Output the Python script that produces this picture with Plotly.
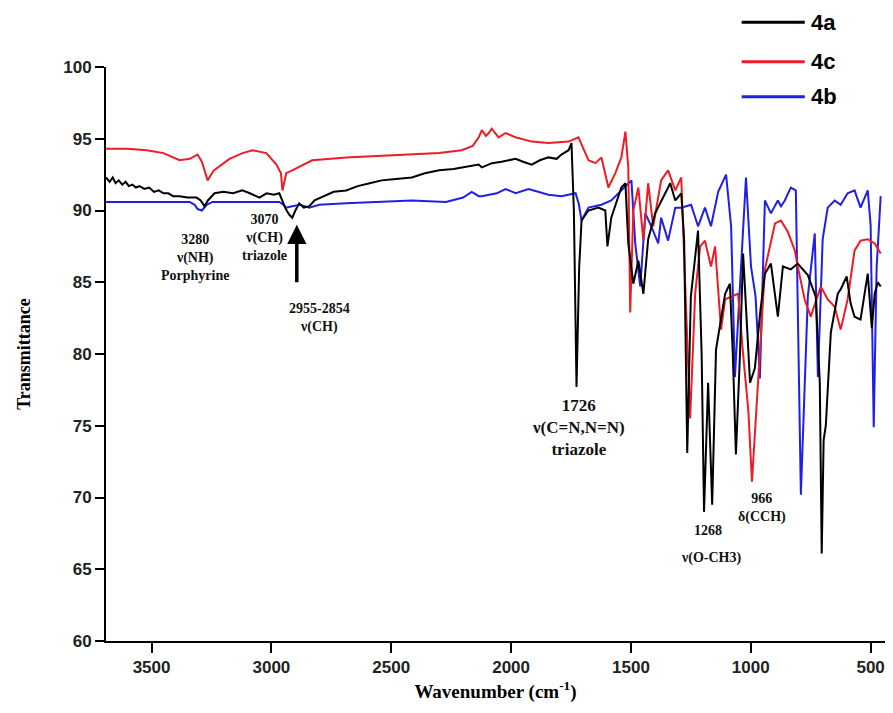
import plotly.graph_objects as go

# ---- data ----
wn_4a = [3690, 3675, 3662, 3650, 3637, 3622, 3608, 3595, 3580, 3565, 3550, 3530, 3510, 3490, 3470,
         3450, 3430, 3410, 3383, 3350, 3312, 3295, 3279, 3265, 3237, 3200, 3160, 3121, 3090, 3050,
         3020, 2990, 2967, 2954, 2940, 2925, 2913, 2900, 2884, 2865, 2842, 2820, 2780, 2740, 2688,
         2640, 2590, 2540, 2480, 2414, 2360, 2300, 2240, 2180, 2135, 2122, 2080, 2040, 1981, 1950,
         1914, 1880, 1844, 1810, 1790, 1760, 1748, 1738, 1727, 1716, 1706, 1677, 1636, 1607, 1598,
         1582, 1540, 1523, 1511, 1490, 1469, 1448, 1428, 1399, 1357, 1336, 1315, 1290, 1278, 1265,
         1250, 1220, 1205, 1195, 1178, 1161, 1145, 1107, 1087, 1075, 1062, 1045, 1032, 1003, 983,
         960, 941, 916, 887, 866, 833, 804, 762, 729, 712, 704, 696, 687, 666, 637, 625, 600,
         583, 567, 542, 512, 495, 483, 470, 458]
t_4a = [92.3, 92.0, 92.3, 91.9, 92.1, 91.8, 92.0, 91.7, 91.8, 91.6, 91.7, 91.5, 91.6, 91.3, 91.4,
        91.2, 91.2, 91.0, 91.0, 90.9, 90.9, 90.7, 90.3, 90.7, 91.2, 91.3, 91.2, 91.4, 91.2, 90.9,
        91.2, 91.1, 91.2, 90.7, 90.1, 89.7, 89.5, 90.0, 90.5, 90.2, 90.3, 90.7, 91.0, 91.3, 91.4,
        91.7, 91.9, 92.1, 92.2, 92.3, 92.6, 92.8, 92.9, 93.1, 93.2, 93.0, 93.3, 93.4, 93.6, 93.4,
        93.2, 93.5, 93.7, 93.6, 93.9, 94.2, 94.7, 90.0, 77.7, 86.0, 89.3, 90.0, 90.2, 90.0, 87.5,
        89.5, 91.6, 91.9, 87.7, 84.9, 86.5, 84.2, 88.0, 89.8, 91.2, 91.9, 90.7, 91.2, 88.0, 73.1,
        84.0, 88.6, 80.0, 69.0, 78.0, 69.5, 80.3, 84.2, 84.9, 80.0, 73.0, 80.0, 87.0, 78.0, 79.0,
        83.0, 85.6, 86.3, 82.6, 86.1, 85.9, 86.3, 85.5, 84.0, 78.0, 66.1, 74.0, 75.0, 81.5, 84.2, 84.5, 85.4,
        83.5, 82.6, 82.4, 85.6, 81.8, 84.2, 85.0, 84.7]

wn_4c = [3691, 3600, 3520, 3450, 3383, 3340, 3308, 3290, 3266, 3240, 3175, 3120, 3079, 3021, 2979,
         2960, 2954, 2938, 2913, 2830, 2688, 2550, 2414, 2300, 2206, 2160, 2135, 2122, 2105, 2093,
         2081, 2052, 2023, 1981, 1914, 1844, 1760, 1719, 1677, 1648, 1623, 1594, 1565, 1540, 1523,
         1511, 1503, 1490, 1469, 1448, 1428, 1407, 1374, 1345, 1315, 1290, 1253, 1232, 1211, 1191,
         1166, 1149, 1124, 1107, 1082, 1053, 1032, 1010, 995, 970, 941, 899, 874, 845, 816, 804,
         775, 750, 733, 708, 679, 650, 625, 596, 567, 542, 512, 483, 458]
t_4c = [94.3, 94.3, 94.2, 94.0, 93.5, 93.6, 93.9, 93.4, 92.1, 92.8, 93.6, 94.0, 94.2, 94.0, 93.2,
        92.6, 91.4, 92.6, 92.8, 93.5, 93.7, 93.8, 93.9, 94.0, 94.2, 94.5, 95.1, 95.6, 95.2, 95.4,
        95.7, 95.1, 95.4, 95.1, 94.8, 94.7, 94.8, 95.1, 93.5, 93.3, 93.7, 91.6, 92.6, 93.7, 95.5,
        93.0, 82.9, 90.0, 91.6, 87.9, 91.9, 88.9, 92.1, 92.8, 91.4, 92.3, 75.5, 84.2, 87.5, 87.9,
        86.1, 87.5, 81.7, 83.8, 84.0, 84.2, 80.0, 76.0, 71.1, 78.0, 85.9, 89.1, 89.3, 88.5, 87.2, 86.1,
        83.8, 82.6, 83.5, 84.7, 83.8, 83.3, 81.7, 83.8, 87.2, 87.9, 88.0, 87.7, 87.0]

wn_4b = [3691, 3550, 3400, 3341, 3320, 3308, 3290, 3270, 3246, 3100, 2967, 2950, 2938, 2913, 2880,
         2842, 2800, 2688, 2550, 2414, 2272, 2200, 2164, 2135, 2122, 2060, 2023, 1981, 1927, 1844,
         1790, 1731, 1718, 1706, 1677, 1623, 1582, 1540, 1498, 1482, 1461, 1440, 1415, 1386, 1374,
         1345, 1315, 1290, 1249, 1220, 1191, 1166, 1136, 1103, 1082, 1066, 1045, 1020, 999, 980,
         962, 941, 916, 887, 874, 858, 833, 812, 791, 762, 733, 720, 700, 679, 650, 625, 596,
         567, 542, 512, 500, 487, 475, 458]
t_4b = [90.6, 90.6, 90.6, 90.6, 90.4, 90.1, 90.0, 90.4, 90.6, 90.6, 90.6, 90.4, 90.2, 90.3, 90.4,
        90.2, 90.4, 90.5, 90.6, 90.7, 90.6, 90.9, 91.3, 91.0, 91.0, 91.2, 91.5, 91.2, 91.5, 91.1,
        91.0, 91.2, 90.5, 89.3, 90.2, 90.4, 90.7, 91.4, 92.1, 87.7, 84.7, 89.8, 88.9, 87.7, 89.5,
        87.9, 90.2, 90.2, 90.4, 88.9, 90.2, 88.9, 91.3, 92.5, 88.9, 78.4, 85.0, 92.3, 86.1, 84.0,
        78.3, 90.7, 89.8, 90.7, 90.3, 90.7, 91.6, 91.4, 70.2, 84.0, 88.4, 78.4, 88.0, 90.2, 90.7,
        90.4, 91.2, 91.4, 90.2, 91.4, 89.0, 74.9, 86.0, 91.0]

x_ticks = [3500, 3000, 2500, 2000, 1500, 1000, 500]
y_ticks = [60, 65, 70, 75, 80, 85, 90, 95, 100]

series_names = ["4a", "4c", "4b"]
series_colors = ["#000000", "#ee1c25", "#1f1fe6"]

fig = go.Figure()
fig.add_trace(go.Scatter(x=wn_4b, y=t_4b, mode="lines", name="4b",
                         line=dict(color=series_colors[2], width=2)))
fig.add_trace(go.Scatter(x=wn_4c, y=t_4c, mode="lines", name="4c",
                         line=dict(color=series_colors[1], width=2)))
fig.add_trace(go.Scatter(x=wn_4a, y=t_4a, mode="lines", name="4a",
                         line=dict(color=series_colors[0], width=2)))

serif = "Liberation Serif, Times New Roman, serif"
sans = "Liberation Sans, Arial, sans-serif"

fig.update_layout(
    width=893, height=713,
    margin=dict(l=106, r=8, t=67, b=72),
    paper_bgcolor="white", plot_bgcolor="white",
    showlegend=False,
    xaxis=dict(range=[3690, 440], tickvals=x_ticks, ticktext=[str(v) for v in x_ticks],
               showgrid=False, zeroline=False, showline=True, linecolor="black", linewidth=2,
               ticks="outside", ticklen=10, tickwidth=2, tickcolor="black",
               tickfont=dict(family=sans, size=17, color="#222", weight="bold"),
               title=dict(text="Wavenumber (cm<sup>-1</sup>)", standoff=8,
                          font=dict(family=serif, size=19, color="black", weight="bold"))),
    yaxis=dict(range=[60, 100], tickvals=y_ticks, showgrid=False, zeroline=False,
               showline=True, linecolor="black", linewidth=2,
               ticks="outside", ticklen=9, tickwidth=2, tickcolor="black",
               tickfont=dict(family=sans, size=17, color="#222", weight="bold"),
               title=dict(text="Transmittance", standoff=28,
                          font=dict(family=serif, size=18, color="black", weight="bold"))),
)

# manual legend (top right)
leg_y = [1.078, 1.009, 0.948]
for name, col, yy in zip(series_names, series_colors, leg_y):
    fig.add_shape(type="line", xref="paper", yref="paper", x0=0.816, x1=0.897, y0=yy, y1=yy,
                  line=dict(color=col, width=3))
    fig.add_annotation(xref="paper", yref="paper", x=0.903, y=yy, text=name, showarrow=False,
                       xanchor="left", yanchor="middle",
                       font=dict(family=sans, size=22, color="black", weight="bold"))

ann_font = dict(family=serif, size=14, color="#111", weight="bold")
labels = [
    (3320, 86.7, "3280<br>ν(NH)<br>Porphyrine", 14),
    (3029, 88.15, "3070<br>ν(CH)<br>triazole", 14),
    (2800, 82.5, "2955-2854<br>ν(CH)", 14),
    (1719, 74.85, "1726<br>ν(C=N,N=N)<br>triazole", 17),
    (953, 69.3, "966<br>δ(CCH)", 14),
    (1178, 67.7, "1268", 14),
    (1166, 65.8, "ν(O-CH3)", 14),
]
for x, y, txt, sz in labels:
    f = dict(ann_font)
    f["size"] = sz
    fig.add_annotation(x=x, y=y, text=txt, showarrow=False, xanchor="center", yanchor="middle",
                       font=f)

# arrow for 2955-2854
fig.add_annotation(x=2894, y=89.0, ax=2894, ay=84.9, axref="x", ayref="y",
                   showarrow=True, arrowhead=2, arrowsize=1.1, arrowwidth=3.5, arrowcolor="black",
                   text="")

fig.write_html("out.html", config={"displayModeBar": False},
               post_script="document.body.style.margin='0';"
                           "document.body.style.overflow='hidden';"
                           "document.documentElement.style.overflow='hidden';")
